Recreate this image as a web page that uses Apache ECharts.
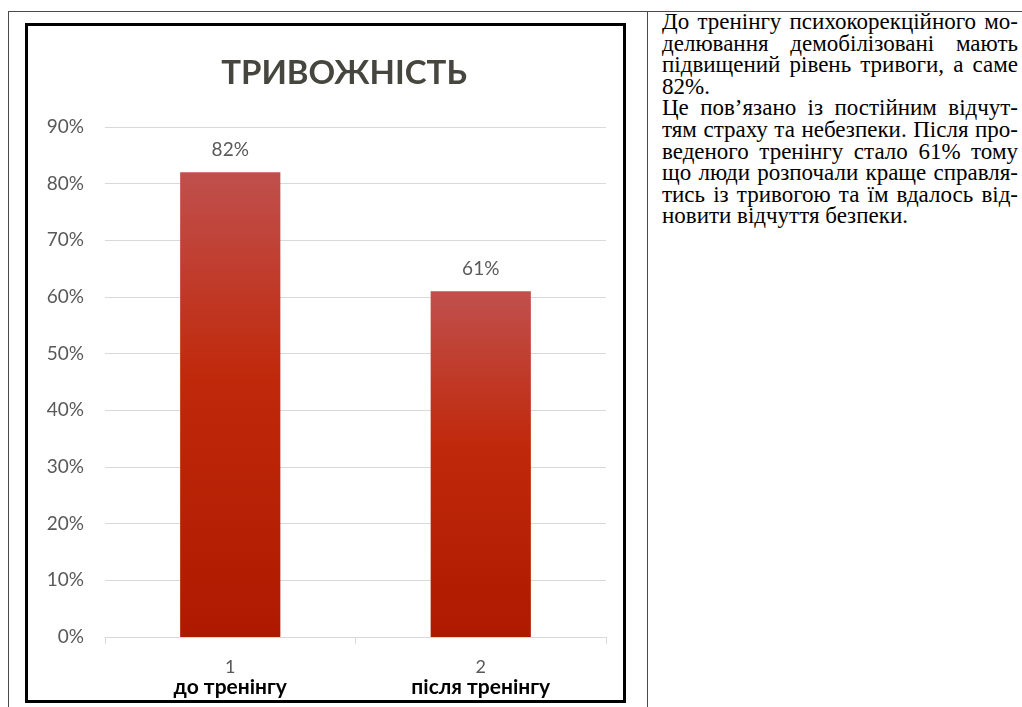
<!DOCTYPE html>
<html>
<head>
<meta charset="utf-8">
<script src="https://cdn.jsdelivr.net/npm/echarts@6/dist/echarts.min.js"></script>
<style>
  html, body { margin: 0; padding: 0; background: #fff; width: 1022px; height: 707px; overflow: hidden; }
  .rule { position: absolute; background: #4a4a4a; }
  #chartBox { position: absolute; left: 25px; top: 23px; width: 595px; height: 674px; border: 3px solid #000; background: #fff; }
  #chart { width: 595px; height: 674px; }
  #note { position: absolute; left: 662px; top: 11px; width: 356px; font-family: "Liberation Serif", "Times New Roman", serif; font-size: 23px; line-height: 21.6px; color: #000; }
  #note div { text-align: justify; text-align-last: justify; white-space: nowrap; }
  #note div.last { text-align-last: left; }
</style>
</head>
<body>
<div class="rule" style="left:8px; top:11px; width:1014px; height:1px;"></div>
<div class="rule" style="left:8px; top:11px; width:1px; height:696px;"></div>
<div class="rule" style="left:647px; top:11px; width:1px; height:696px;"></div>

<div id="chartBox"><div id="chart"></div></div>

<div id="note">
  <div>До тренінгу психокорекційного мо-</div>
  <div>делювання демобілізовані мають</div>
  <div>підвищений рівень тривоги, а саме</div>
  <div class="last">82%.</div>
  <div>Це пов’язано із постійним відчут-</div>
  <div>тям страху та небезпеки. Після про-</div>
  <div>веденого тренінгу стало 61% тому</div>
  <div>що люди розпочали краще справля-</div>
  <div>тись із тривогою та їм вдалось від-</div>
  <div class="last">новити відчуття безпеки.</div>
</div>

<script>
// Chart content
const chartTitle = 'ТРИВОЖНІСТЬ';
const groupNumbers = ['1', '2'];
const groupNames = ['до тренінгу', 'після тренінгу'];
const anxietyPercent = [82, 61];
const yTicks = { min: 0, max: 90, interval: 10 };

const FONT = 'Lato, "Open Sans", sans-serif';
const GREY = '#595959';

const chart = echarts.init(document.getElementById('chart'), null, { renderer: 'canvas' });

const barFill = new echarts.graphic.LinearGradient(0, 0, 0, 1, [
  { offset: 0, color: '#C0504D' },
  { offset: 0.45, color: '#C0280A' },
  { offset: 1, color: '#AE1A00' }
]);

chart.setOption({
  animation: false,
  title: {
    text: chartTitle,
    left: 311,
    textAlign: 'center',
    top: 26,
    textStyle: { fontFamily: FONT, fontWeight: 'bold', fontSize: 33, color: '#46463f' }
  },
  grid: { left: 77, right: 17, top: 101, bottom: 63 },
  xAxis: {
    type: 'category',
    data: groupNumbers.map((n, i) => n + '\n' + groupNames[i]),
    axisLine: { lineStyle: { color: '#d9d9d9', width: 1 } },
    axisTick: { show: true, length: 7, lineStyle: { color: '#d9d9d9' } },
    axisLabel: {
      margin: 21,
      formatter: function (v) {
        const parts = v.split('\n');
        return '{n|' + parts[0] + '}\n{g|' + parts[1] + '}';
      },
      rich: {
        n: { fontFamily: FONT, fontSize: 18, color: GREY, lineHeight: 19 },
        g: { fontFamily: FONT, fontSize: 21, fontWeight: 'bold', color: '#000', lineHeight: 21 }
      }
    }
  },
  yAxis: {
    type: 'value',
    min: yTicks.min,
    max: yTicks.max,
    interval: yTicks.interval,
    axisLine: { show: false },
    axisTick: { show: false },
    splitLine: { lineStyle: { color: '#d9d9d9', width: 1 } },
    axisLabel: { margin: 21, fontFamily: FONT, fontSize: 19, color: GREY, formatter: '{value}%' }
  },
  series: [{
    type: 'bar',
    data: anxietyPercent,
    barWidth: '40%',
    itemStyle: { color: barFill },
    label: {
      show: true,
      position: 'top',
      distance: 13,
      formatter: '{c}%',
      fontFamily: FONT,
      fontSize: 19,
      color: GREY
    }
  }]
});
</script>
</body>
</html>
